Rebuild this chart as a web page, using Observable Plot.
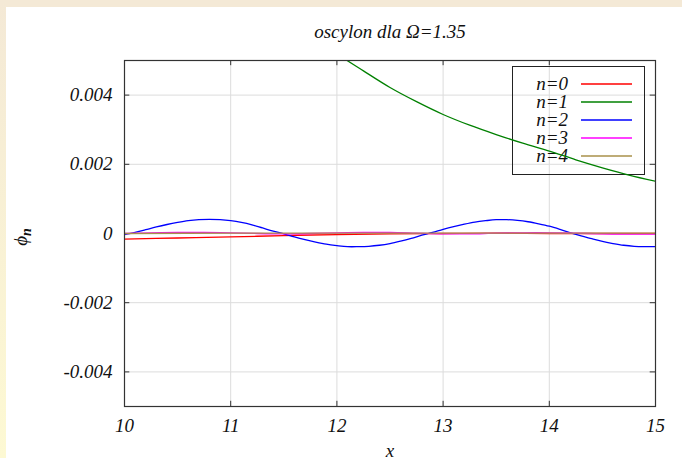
<!DOCTYPE html>
<html>
<head>
<meta charset="utf-8">
<script src="https://cdn.jsdelivr.net/npm/d3@7"></script>
<script src="https://cdn.jsdelivr.net/npm/@observablehq/plot@0.6"></script>
<style>
  html, body { margin: 0; padding: 0; background: #ffffff; width: 682px; height: 458px; overflow: hidden; }
  #topStrip { position: absolute; left: 0; top: 0; width: 682px; height: 7px; background: #f4e9d6; }
  #leftStrip { position: absolute; left: 0; top: 0; width: 6px; height: 458px; background: linear-gradient(#f4e9d6, #fdf9d3); }
  #chart { position: absolute; left: 0; top: 0; }
</style>
</head>
<body>
<div id="topStrip"></div>
<div id="leftStrip"></div>
<div id="chart"></div>
<script>
const title = "oscylon dla Ω=1.35";
const xLabel = "x";
const yLabelMain = "ϕ";
const yLabelSub = "n";

const xTicks = [10, 11, 12, 13, 14, 15];
const yTicks = [0.004, 0.002, 0, -0.002, -0.004];
const yTickLabels = ["0.004", "0.002", "0", "-0.002", "-0.004"];

const seriesNames = ["n=0", "n=1", "n=2", "n=3", "n=4"];
const seriesColors = ["#ff0000", "#008000", "#0000ff", "#ff00ff", "#a8904a"];

// n=0 (red)
const x0 = [10, 10.5, 11, 11.5, 12, 12.5, 13, 13.5, 14, 14.5, 15];
const y0 = [-0.00016, -0.00013, -0.00010, -0.00006, -0.00003, -0.00001, 0.0, 0.00001, 0.0, 0.0, 0.0];

// n=1 (green)
const x1 = [11.5, 11.75, 12, 12.25, 12.5, 12.75, 13, 13.25, 13.5, 13.75, 14, 14.25, 14.5, 14.75, 15];
const y1 = [0.0065, 0.0058, 0.0052, 0.0047, 0.00422, 0.00381, 0.00344, 0.00313, 0.00286, 0.00261, 0.00238, 0.00213, 0.00190, 0.00169, 0.00151];

// n=2 (blue)
const x2 = [10.0, 10.1, 10.2, 10.3, 10.4, 10.5, 10.6, 10.7, 10.8, 10.9,
            11.0, 11.1, 11.2, 11.3, 11.4, 11.5, 11.6, 11.7, 11.8, 11.9,
            12.0, 12.1, 12.2, 12.3, 12.4, 12.5, 12.6, 12.7, 12.8, 12.9,
            13.0, 13.1, 13.2, 13.3, 13.4, 13.5, 13.6, 13.7, 13.8, 13.9,
            14.0, 14.1, 14.2, 14.3, 14.4, 14.5, 14.6, 14.7, 14.8, 14.9, 15.0];
const y2 = [-0.00003, 0.00003, 0.00011, 0.00019, 0.00026, 0.00032, 0.00037, 0.00040, 0.00041, 0.00040,
            0.00037, 0.00032, 0.00025, 0.00016, 0.00007, -0.00001, -0.00010, -0.00018, -0.00025, -0.00031,
            -0.00035, -0.00038, -0.00038, -0.00037, -0.00034, -0.00029, -0.00022, -0.00014, -0.00005, 0.00003,
            0.00012, 0.00020, 0.00027, 0.00033, 0.00037, 0.00040, 0.00040, 0.00038, 0.00034, 0.00028,
            0.00021, 0.00012, 0.00002, -0.00007, -0.00015, -0.00023, -0.00029, -0.00034, -0.00037, -0.00038, -0.00038];

// n=3 (magenta)
const x3 = [10, 10.25, 10.5, 10.75, 11, 11.25, 11.5, 11.75, 12, 12.25, 12.5, 12.75, 13, 13.25, 13.5, 13.75, 14, 14.25, 14.5, 14.75, 15];
const y3 = [0.0, 0.00002, 0.00003, 0.00003, 0.00002, 0.0, -0.00001, 0.0, 0.00002, 0.00003, 0.00003, 0.00001, -0.00001, -0.00001, 0.00001, 0.00002, 0.00002, 0.00001, -0.00001, -0.00002, -0.00002];

// n=4 (olive)
const x4 = [10, 11, 12, 13, 14, 15];
const y4 = [0.0, 0.00001, 0.00001, 0.00001, 0.00001, 0.00001];

const xs = [x0, x1, x2, x3, x4];
const ys = [y0, y1, y2, y3, y4];
const lines = xs.map((xa, k) => xa.map((x, i) => ({x, y: ys[k][i], series: seriesNames[k]})));

const font = "'Liberation Serif', 'DejaVu Serif', serif";

function legendMark(index, scales, values, dims) {
  const g = d3.create("svg:g").attr("font-family", font).attr("font-style", "italic").attr("font-size", 19);
  const right = dims.width - dims.marginRight - 11;
  const left = right - 132;
  const top = dims.marginTop + 6;
  g.append("rect").attr("x", left + 0.5).attr("y", top + 0.5).attr("width", 132).attr("height", 108)
    .attr("fill", "none").attr("stroke", "#222").attr("stroke-width", 1);
  seriesNames.forEach((name, i) => {
    const yy = top + 18 + i * 18;
    g.append("text").attr("x", left + 56).attr("y", yy).attr("dy", "0.32em").attr("text-anchor", "end").attr("fill", "#111").text(name);
    g.append("line").attr("x1", left + 69).attr("x2", left + 120).attr("y1", yy).attr("y2", yy)
      .attr("stroke", seriesColors[i]).attr("stroke-width", 1.3);
  });
  return g.node();
}

function yLabelMark(index, scales, values, dims) {
  const cx = 27, cy = dims.marginTop + (dims.height - dims.marginTop - dims.marginBottom) / 2 + 4;
  const t = d3.create("svg:text").attr("transform", `translate(${cx},${cy}) rotate(-90)`)
    .attr("text-anchor", "middle").attr("font-family", font).attr("font-style", "italic").attr("font-size", 19).attr("fill", "#111");
  t.append("tspan").text(yLabelMain);
  t.append("tspan").attr("font-size", 14).attr("dy", 4).attr("font-weight", "bold").text(yLabelSub);
  return t.node();
}

const chart = Plot.plot({
  width: 682,
  height: 458,
  marginLeft: 124,
  marginRight: 27,
  marginTop: 60,
  marginBottom: 52,
  style: {fontFamily: font, fontStyle: "italic", fontSize: "19px", background: "transparent", color: "#111"},
  x: {domain: [10, 15]},
  y: {domain: [-0.005, 0.005]},
  color: {domain: seriesNames, range: seriesColors},
  marks: [
    Plot.gridX(xTicks, {stroke: "#dcdcdc", strokeOpacity: 1}),
    Plot.gridY(yTicks, {stroke: "#dcdcdc", strokeOpacity: 1}),
    Plot.axisX(xTicks, {tickSize: 0, tickPadding: 12, label: null, tickFormat: d => String(d), fontSize: 19}),
    Plot.axisY(yTicks, {tickSize: 0, tickPadding: 12, label: null, tickFormat: d => yTickLabels[yTicks.indexOf(d)], fontSize: 19}),
    Plot.ruleX(xTicks, {x: d => d, y1: -0.005, y2: -0.00485, stroke: "#333"}),
    Plot.ruleX(xTicks, {x: d => d, y1: 0.005, y2: 0.00485, stroke: "#333"}),
    Plot.ruleY(yTicks, {y: d => d, x1: 10, x2: 10.05, stroke: "#333"}),
    Plot.ruleY(yTicks, {y: d => d, x1: 14.95, x2: 15, stroke: "#333"}),
    legendMark,
    ...lines.map((data, k) => Plot.line(data, {x: "x", y: "y", stroke: seriesColors[k], strokeWidth: 1.3, curve: "catmull-rom", clip: true})),
    Plot.frame({stroke: "#333", strokeWidth: 1.2}),
    Plot.text([title], {frameAnchor: "top", lineAnchor: "bottom", dy: -23, fontSize: 19, fill: "#111"}),
    Plot.text([xLabel], {frameAnchor: "bottom", lineAnchor: "bottom", dy: 50, fontSize: 19, fill: "#111"}),
    yLabelMark
  ]
});
document.getElementById("chart").appendChild(chart);
</script>
</body>
</html>
